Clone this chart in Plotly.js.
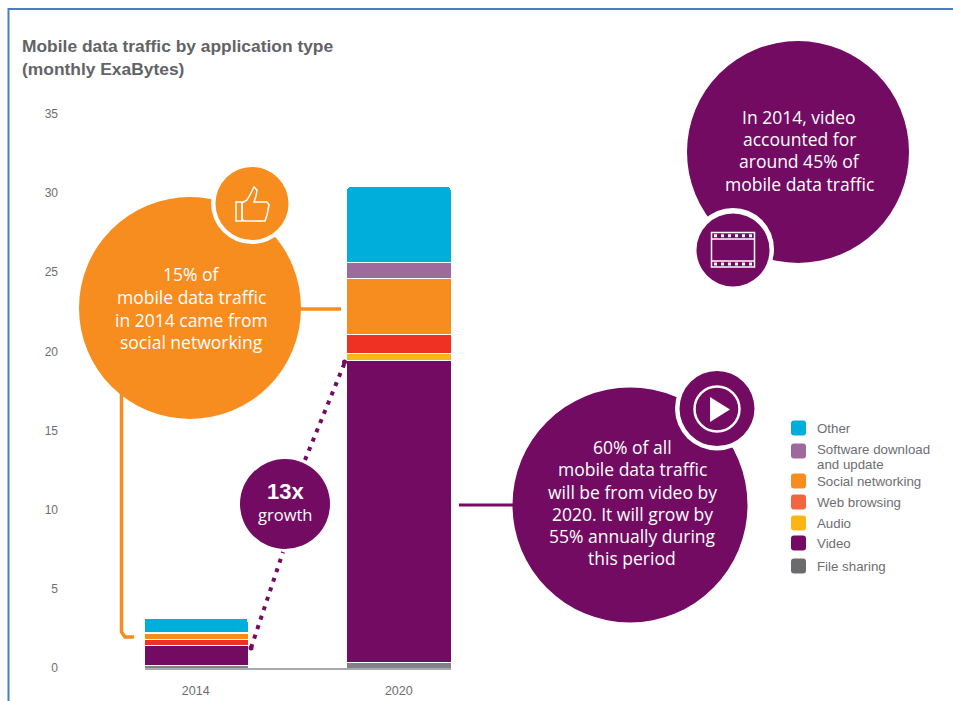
<!DOCTYPE html>
<html>
<head>
<meta charset="utf-8">
<script src="https://cdn.plot.ly/plotly-3.0.1.min.js"></script>
<style>html,body{margin:0;padding:0;background:#fff}#chart{width:953px;height:701px}</style>
</head>
<body>
<div id="chart"></div>
<script>
// Stack values in monthly ExaBytes, bottom of the stack first
const years = ['2014', '2020'];
const fileSharing = [0.15, 0.35];
const video = [1.25, 19.05];
const audio = [0.05, 0.45];
const webBrowsing = [0.35, 1.2];
const socialNetworking = [0.35, 3.55];
const softwareUpdate = [0.1, 1.05];
const other = [0.9, 4.75];
const yTicks = [0, 5, 10, 15, 20, 25, 30, 35];

const W = 953, H = 701;
const PLOT = {l: 145, r: 451, t: 114, b: 668};
const PURPLE = '#730b62', ORANGE = '#f78d1f';
const FONT = '"Liberation Sans", Arial, sans-serif';
const CALLOUT_FONT = '"Open Sans", "Liberation Sans", sans-serif';

// Pixel position to paper fraction, for the callouts around the plot
const px = x => (x - PLOT.l) / (PLOT.r - PLOT.l);
const py = y => (PLOT.b - y) / (PLOT.b - PLOT.t);
const pt = (x, y) => px(x) + ',' + py(y);

const shapes = [];
const annotations = [];

function circle(cx, cy, r, fill, line, lw) {
  shapes.push({type: 'circle', xref: 'paper', yref: 'paper',
    x0: px(cx - r), x1: px(cx + r), y0: py(cy + r), y1: py(cy - r),
    fillcolor: fill, line: {color: line || fill, width: lw || 0}});
}
function path(d, fill, color, lw, dash) {
  shapes.push({type: 'path', xref: 'paper', yref: 'paper', path: d,
    fillcolor: fill || 'rgba(0,0,0,0)',
    line: {color: color || 'rgba(0,0,0,0)', width: lw || 0, dash: dash || 'solid'}});
}
function polyline(points, color, lw, dash) {
  path('M' + points.map(p => pt(p[0], p[1])).join(' L'), null, color, lw, dash);
}
function closed(points, fill, color, lw) {
  path('M' + points.map(p => pt(p[0], p[1])).join(' L') + ' Z', fill, color, lw);
}
function label(x, y, text, size, color, anchor, weight, family) {
  annotations.push({xref: 'paper', yref: 'paper', x: px(x), y: py(y), text: text,
    showarrow: false, xanchor: anchor || 'center', yanchor: 'middle', align: anchor || 'center',
    borderpad: 0, borderwidth: 0,
    font: {family: family || FONT, size: size, color: color, weight: weight || 400}});
}

// Frame along the top and left edges
polyline([[8.5, 701], [8.5, 9], [953, 9]], '#4a7ebb', 2);

// Leader lines behind the circles
polyline([[121.5, 385], [121.5, 632], [125, 637], [134, 637]], ORANGE, 3.5);
polyline([[295, 309], [341, 309]], ORANGE, 3.5);
polyline([[459, 505], [520, 505]], PURPLE, 3);
polyline([[251, 648], [283, 552]], PURPLE, 4, '4px,6px');
polyline([[305, 460], [345, 362]], PURPLE, 4, '4px,6px');
circle(251, 648, 2.5, PURPLE);
circle(344.5, 362, 2.5, PURPLE);

// Social networking callout with thumb badge
circle(190, 308, 111, ORANGE);
circle(252, 203, 41, '#ffffff');
circle(252, 203.5, 36.5, ORANGE);
closed([[236,202],[242,202],[242,221],[236,221]], null, '#fff', 1.5);
closed([[242,203],[247,200],[251,193],[254,187],[257,190],[256,196],[254,202],[267,202],[269,205],[268,210],[267,215],[265,221],[244,221],[242,219]], null, '#fff', 1.5);

// Video share callout with film strip badge
circle(798, 152, 111, PURPLE);
circle(733, 249, 41, '#ffffff');
circle(733, 250, 36.5, PURPLE);
closed([[711.5,232.5],[754.5,232.5],[754.5,267],[711.5,267]], null, '#fff', 1.5);
polyline([[711.5, 239], [754.5, 239]], '#fff', 1.5);
polyline([[711.5, 261], [754.5, 261]], '#fff', 1.5);
polyline([[714, 235.8], [753, 235.8]], '#fff', 3, '3px,4px');
polyline([[714, 264], [753, 264]], '#fff', 3, '3px,4px');

// 2020 video callout with play badge
circle(630, 505, 117.5, PURPLE);
circle(717, 408.5, 42, '#ffffff');
circle(717, 408.5, 37.5, PURPLE);
circle(717, 409, 22.5, 'rgba(0,0,0,0)', '#ffffff', 2.5);
closed([[710,397],[710,422],[730,409.5]], '#fff');

// Growth badge
circle(285, 504, 45, PURPLE);

// Legend swatches and names
const legendNames = ['Other', 'Software download', 'Social networking', 'Web browsing', 'Audio', 'Video', 'File sharing'];
const legendColours = ['#00aedb', '#9e6a9e', ORANGE, '#f26540', '#fdb515', PURPLE, '#6b6b6d'];
const legendRows = [428, 451, 481, 502, 523, 543, 566];
const legendTextRows = [428, 449.5, 481, 502, 523, 543, 566];
legendNames.forEach((name, i) => {
  const yc = legendRows[i], x0 = 791, x1 = 806, h = 7.5, c = 3;
  path('M' + pt(x0 + c, yc - h) + ' L' + pt(x1 - c, yc - h) + ' Q' + pt(x1, yc - h) + ' ' + pt(x1, yc - h + c) +
    ' L' + pt(x1, yc + h - c) + ' Q' + pt(x1, yc + h) + ' ' + pt(x1 - c, yc + h) +
    ' L' + pt(x0 + c, yc + h) + ' Q' + pt(x0, yc + h) + ' ' + pt(x0, yc + h - c) +
    ' L' + pt(x0, yc - h + c) + ' Q' + pt(x0, yc - h) + ' ' + pt(x0 + c, yc - h) + ' Z', legendColours[i]);
  label(817, legendTextRows[i], name, 13.3, '#6d6e71', 'left');
});
label(817, 464, 'and update', 13.3, '#6d6e71', 'left');

// Callout wording
const callouts = [
  [191, 274, '15% of'], [191, 297, 'mobile data traffic'], [191, 320, 'in 2014 came from'], [191, 342, 'social networking'],
  [799, 117, 'In 2014, video'], [799, 139, 'accounted for'], [799, 161, 'around 45% of'], [799, 184, 'mobile data traffic'],
  [632, 447, '60% of all'], [632, 469, 'mobile data traffic'], [632, 492, 'will be from video by'],
  [632, 514, '2020. It will grow by'], [632, 536, '55% annually during'], [632, 558, 'this period']
];
callouts.forEach(c => label(c[0], c[1], c[2], 17.5, '#fff', 'center', 400, CALLOUT_FONT));
label(285, 491, '13x', 22, '#fff', 'center', 700);
label(285, 514, 'growth', 16.5, '#fff', 'center', 400, CALLOUT_FONT);

// Stacked series, drawn in stack order
const series = [
  ['File sharing', fileSharing, '#808285'],
  ['Video', video, PURPLE],
  ['Audio', audio, '#fdb515'],
  ['Web browsing', webBrowsing, '#ef3124'],
  ['Social networking', socialNetworking, ORANGE],
  ['Software download and update', softwareUpdate, '#9e6a9e'],
  ['Other', other, '#00aedb']
];
const traces = series.map(s => ({
  type: 'bar', name: s[0], x: years, y: s[1], width: 0.515,
  marker: {color: s[2], line: {color: '#ffffff', width: 1}}
}));

const layout = {
  width: W, height: H,
  margin: {l: PLOT.l, r: W - PLOT.r, t: PLOT.t, b: H - PLOT.b, pad: 0},
  paper_bgcolor: '#fff', plot_bgcolor: '#fff',
  barmode: 'stack', barcornerradius: 4, showlegend: false,
  font: {family: FONT, color: '#6d6e71'},
  title: {
    text: 'Mobile data traffic by application type<br>(monthly ExaBytes)',
    x: 22 / W, xanchor: 'left', xref: 'container',
    y: 1 - 52 / H, yanchor: 'top', yref: 'container',
    font: {family: FONT, size: 17.4, color: '#626366', weight: 700}
  },
  xaxis: {
    type: 'category', range: [-0.25, 1.257], fixedrange: true,
    showline: true, linecolor: '#a7a9ac', linewidth: 1.5,
    ticks: '', ticklabelstandoff: 10, tickfont: {size: 12.5, color: '#6d6e71'},
    showgrid: false, zeroline: false
  },
  yaxis: {
    range: [0, 35], tickvals: yTicks, ticktext: yTicks.map(String), fixedrange: true,
    showline: false, showgrid: false, zeroline: false, ticks: '',
    ticklabelstandoff: 86, tickfont: {size: 12, color: '#6d6e71'}
  },
  shapes: shapes,
  annotations: annotations
};

Plotly.newPlot('chart', traces, layout, {displayModeBar: false, staticPlot: true});
</script>
</body>
</html>
